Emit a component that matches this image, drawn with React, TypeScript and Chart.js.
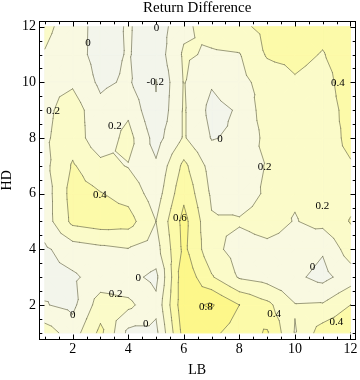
import React, { useEffect, useRef } from "react";
import { Chart, registerables } from "chart.js";

Chart.register(...registerables);

// LB (x) and HD (y) grid coordinates
const lbValues = [1, 2, 3, 4, 5, 6, 7, 8, 9, 10, 11, 12];
const hdValues = [1, 2, 3, 4, 5, 6, 7, 8, 9, 10, 11, 12];

// Return difference, one row per HD value, columns follow lbValues
const hd01 = [0.3, 0.1, 0.45, -0.05, -0.05, 0.68, 0.65, 0.5, 0.62, 0.19, 0.5, 0.6];
const hd02 = [0.01, -0.05, 0.3, 0.25, 0.05, 0.75, 0.82, 0.6, 0.45, 0.21, 0.22, 0.4];
const hd03 = [-0.06, -0.03, 0.08, 0.06, -0.05, 0.75, 0.42, 0.18, 0.12, 0.04, -0.06, 0.1];
const hd04 = [-0.03, 0.1, 0.15, 0.19, 0.12, 0.65, 0.26, 0.12, 0.15, 0.12, 0.02, 0.3];
const hd05 = [0.1, 0.45, 0.5, 0.48, 0.2, 0.67, 0.22, 0.22, 0.28, 0.19, 0.26, 0.41];
const hd06 = [0.1, 0.48, 0.41, 0.33, 0.1, 0.55, 0.17, 0.1, 0.23, 0.22, 0.27, 0.35];
const hd07 = [0.15, 0.42, 0.26, 0.19, 0.03, 0.45, 0.12, 0.13, 0.21, 0.3, 0.35, 0.39];
const hd08 = [0.17, 0.32, 0.06, 0.27, -0.08, 0.22, -0.01, 0.03, 0.26, 0.3, 0.34, 0.43];
const hd09 = [0.15, 0.3, 0.06, 0.16, -0.18, 0.22, -0.06, 0.02, 0.32, 0.3, 0.33, 0.45];
const hd10 = [0.16, 0.17, -0.04, 0.03, -0.21, 0.21, 0.02, 0.14, 0.28, 0.38, 0.33, 0.5];
const hd11 = [0.19, 0.09, -0.08, 0.015, -0.12, 0.23, 0.17, 0.19, 0.42, 0.45, 0.39, 0.5];
const hd12 = [0.24, 0.12, -0.1, 0.02, -0.12, 0.15, 0.3, 0.36, 0.45, 0.5, 0.45, 0.52];
const valueRows = [hd01, hd02, hd03, hd04, hd05, hd06, hd07, hd08, hd09, hd10, hd11, hd12];

// contour levels and shading (lowest band first)
const contourLevels = [-0.2, 0, 0.2, 0.4, 0.6, 0.8];
const bandColors = ["#eef0ea", "#f3f5eb", "#f9f9e1", "#fbfbc9", "#fcfaa9", "#fdf78a", "#fef46c"];

const xTickValues = [2, 4, 6, 8, 10, 12];
const yTickValues = [2, 4, 6, 8, 10, 12];

// contour labels
const labelText = ["0", "0", "-0.2", "0.2", "0.2", "0.4", "0", "0.2", "0.4", "0.6", "0.2", "0", "0", "0.2", "0", "0", "0.8", "0.4", "0.4"];
const labelLB = [2.55, 5.02, 4.97, 1.3, 3.52, 11.55, 7.3, 8.91, 2.98, 5.86, 10.99, 10.63, 4.36, 3.55, 2.0, 4.63, 6.79, 9.25, 11.49];
const labelHD = [11.42, 11.95, 10.0, 8.95, 8.44, 9.97, 7.96, 6.94, 5.96, 5.12, 5.57, 3.36, 2.96, 2.4, 1.64, 1.31, 1.94, 1.68, 1.4];

const SERIF = '"Liberation Serif", "Times New Roman", serif';

type P = [number, number, number];

function clipAbove(poly: P[], lo: number): P[] {
  const out: P[] = [];
  for (let i = 0; i < poly.length; i++) {
    const a = poly[i];
    const b = poly[(i + 1) % poly.length];
    const ain = a[2] >= lo;
    const bin = b[2] >= lo;
    if (ain) out.push(a);
    if (ain !== bin) {
      const t = (lo - a[2]) / (b[2] - a[2]);
      out.push([a[0] + t * (b[0] - a[0]), a[1] + t * (b[1] - a[1]), lo]);
    }
  }
  return out;
}

function buildTriangles(chart: any): P[][] {
  const xs = chart.scales.x;
  const ys = chart.scales.y;
  const tris: P[][] = [];
  for (let j = 0; j < hdValues.length - 1; j++) {
    for (let i = 0; i < lbValues.length - 1; i++) {
      const x0 = xs.getPixelForValue(lbValues[i]);
      const x1 = xs.getPixelForValue(lbValues[i + 1]);
      const y0 = ys.getPixelForValue(hdValues[j]);
      const y1 = ys.getPixelForValue(hdValues[j + 1]);
      const a: P = [x0, y0, valueRows[j][i]];
      const b: P = [x1, y0, valueRows[j][i + 1]];
      const c: P = [x1, y1, valueRows[j + 1][i + 1]];
      const d: P = [x0, y1, valueRows[j + 1][i]];
      const m: P = [(x0 + x1) / 2, (y0 + y1) / 2, (a[2] + b[2] + c[2] + d[2]) / 4];
      tris.push([a, b, m], [b, c, m], [c, d, m], [d, a, m]);
    }
  }
  return tris;
}

const contourPlugin = {
  id: "contourShading",
  beforeDatasetsDraw(chart: any) {
    const ctx = chart.ctx as CanvasRenderingContext2D;
    const tris = buildTriangles(chart);
    ctx.save();
    ctx.lineJoin = "round";
    for (let k = 0; k < bandColors.length; k++) {
      ctx.fillStyle = bandColors[k];
      ctx.strokeStyle = bandColors[k];
      ctx.lineWidth = 0.8;
      ctx.beginPath();
      for (const t of tris) {
        const poly = k === 0 ? t : clipAbove(t, contourLevels[k - 1]);
        if (poly.length < 3) continue;
        ctx.moveTo(poly[0][0], poly[0][1]);
        for (let n = 1; n < poly.length; n++) ctx.lineTo(poly[n][0], poly[n][1]);
        ctx.closePath();
      }
      ctx.fill();
      ctx.stroke();
    }
    // contour lines
    ctx.strokeStyle = "rgba(115,115,90,0.7)";
    ctx.lineWidth = 1;
    ctx.lineCap = "round";
    for (const L of contourLevels) {
      ctx.beginPath();
      for (const t of tris) {
        const pts: number[][] = [];
        for (let e = 0; e < 3; e++) {
          const p = t[e];
          const q = t[(e + 1) % 3];
          if ((p[2] >= L) !== (q[2] >= L)) {
            const u = (L - p[2]) / (q[2] - p[2]);
            pts.push([p[0] + u * (q[0] - p[0]), p[1] + u * (q[1] - p[1])]);
          }
        }
        if (pts.length === 2) {
          ctx.moveTo(pts[0][0], pts[0][1]);
          ctx.lineTo(pts[1][0], pts[1][1]);
        }
      }
      ctx.stroke();
    }
    ctx.restore();
  },
  afterDatasetsDraw(chart: any) {
    const ctx = chart.ctx as CanvasRenderingContext2D;
    const xs = chart.scales.x;
    const ys = chart.scales.y;
    ctx.save();
    ctx.fillStyle = "#000";
    ctx.font = `11px ${SERIF}`;
    ctx.textAlign = "center";
    ctx.textBaseline = "middle";
    for (let i = 0; i < labelText.length; i++) {
      ctx.fillText(labelText[i], xs.getPixelForValue(labelLB[i]), ys.getPixelForValue(labelHD[i]));
    }
    ctx.restore();
  },
  afterDraw(chart: any) {
    const ctx = chart.ctx as CanvasRenderingContext2D;
    const xs = chart.scales.x;
    const ys = chart.scales.y;
    const area = chart.chartArea;
    const L = Math.floor(area.left) + 0.5;
    const R = Math.floor(area.right) + 0.5;
    const T = Math.floor(area.top) + 0.5;
    const B = Math.floor(area.bottom) + 0.5;
    ctx.save();
    ctx.strokeStyle = "#000";
    ctx.lineWidth = 1;
    ctx.strokeRect(L, T, R - L, B - T);
    ctx.beginPath();
    for (let v = 1; v <= 12.001; v += 0.5) {
      const major = xTickValues.includes(v);
      const len = major ? 5 : 2.8;
      const px = Math.round(xs.getPixelForValue(v)) + 0.5;
      ctx.moveTo(px, B);
      ctx.lineTo(px, B - len);
      ctx.moveTo(px, T);
      ctx.lineTo(px, T + len);
    }
    for (let v = 1; v <= 12.001; v += 0.5) {
      const major = yTickValues.includes(v);
      const len = major ? 5 : 2.8;
      const py = Math.round(ys.getPixelForValue(v)) + 0.5;
      ctx.moveTo(L, py);
      ctx.lineTo(L + len, py);
      ctx.moveTo(R, py);
      ctx.lineTo(R - len, py);
    }
    ctx.stroke();

    ctx.fillStyle = "#000";
    ctx.textAlign = "center";
    ctx.textBaseline = "middle";
    ctx.font = `15px ${SERIF}`;
    ctx.fillText("Return Difference", (area.left + area.right) / 2, 8);
    ctx.font = `14px ${SERIF}`;
    ctx.fillText("LB", (area.left + area.right) / 2, 370);
    ctx.translate(7, (area.top + area.bottom) / 2);
    ctx.rotate(-Math.PI / 2);
    ctx.fillText("HD", 0, 0);
    ctx.restore();
  },
};

export default function App() {
  const canvasRef = useRef<HTMLCanvasElement | null>(null);

  useEffect(() => {
    const canvas = canvasRef.current;
    if (!canvas) return;
    const points: { x: number; y: number }[] = [];
    hdValues.forEach((hd) => lbValues.forEach((lb) => points.push({ x: lb, y: hd })));
    const chart = new Chart(canvas, {
      type: "scatter",
      data: {
        datasets: [
          {
            label: "Return Difference",
            data: points,
            pointRadius: 0,
            pointHoverRadius: 0,
            showLine: false,
          },
        ],
      },
      options: {
        animation: false,
        responsive: false,
        events: [],
        layout: { padding: { top: 21.7, right: 5, left: 0, bottom: 0 } },
        plugins: {
          legend: { display: false },
          tooltip: { enabled: false },
          title: { display: false },
        },
        scales: {
          x: {
            type: "linear",
            min: 0.802,
            max: 12.162,
            grid: { display: false, drawTicks: false },
            border: { display: false },
            afterBuildTicks: (s: any) => {
              s.ticks = xTickValues.map((v) => ({ value: v }));
            },
            afterFit: (s: any) => {
              s.height = 41;
              s.paddingLeft = 0;
              s.paddingRight = 0;
            },
            ticks: {
              font: { family: SERIF, size: 14 },
              color: "#000",
              padding: 2,
              maxRotation: 0,
              autoSkip: false,
            },
          },
          y: {
            type: "linear",
            min: 0.777,
            max: 12.18,
            grid: { display: false, drawTicks: false },
            border: { display: false },
            afterBuildTicks: (s: any) => {
              s.ticks = yTickValues.map((v) => ({ value: v }));
            },
            afterFit: (s: any) => {
              s.width = 39.4;
              s.paddingTop = 0;
              s.paddingBottom = 0;
            },
            ticks: {
              font: { family: SERIF, size: 14 },
              color: "#000",
              padding: 3.4,
              autoSkip: false,
            },
          },
        },
      },
      plugins: [contourPlugin],
    } as any);
    return () => chart.destroy();
  }, []);

  return (
    <div style={{ position: "absolute", left: 0, top: 0, width: 360, height: 380, background: "#fff" }}>
      <canvas ref={canvasRef} width={360} height={380} style={{ display: "block", width: 360, height: 380 }} />
    </div>
  );
}
